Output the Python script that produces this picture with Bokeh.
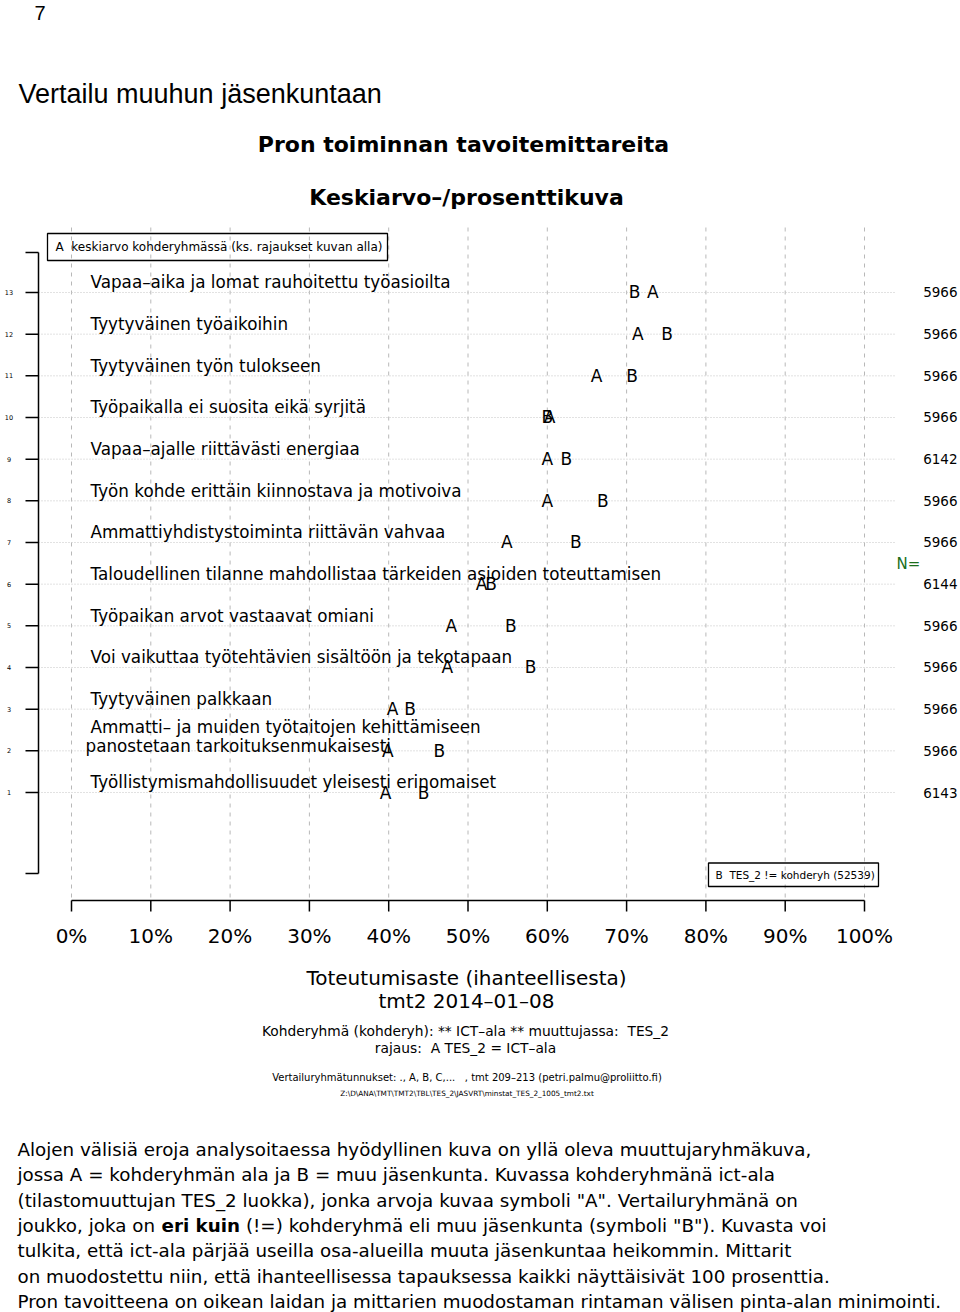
from bokeh.plotting import figure
from bokeh.models import Range1d
from bokeh.embed import file_html
from bokeh.resources import INLINE
from bokeh.core.properties import value

# ---------------- data ----------------
rows = [13, 12, 11, 10, 9, 8, 7, 6, 5, 4, 3, 2, 1]
labels = [
    "Vapaa–aika ja lomat rauhoitettu työasioilta",
    "Tyytyväinen työaikoihin",
    "Tyytyväinen työn tulokseen",
    "Työpaikalla ei suosita eikä syrjitä",
    "Vapaa–ajalle riittävästi energiaa",
    "Työn kohde erittäin kiinnostava ja motivoiva",
    "Ammattiyhdistystoiminta riittävän vahvaa",
    "Taloudellinen tilanne mahdollistaa tärkeiden asioiden toteuttamisen",
    "Työpaikan arvot vastaavat omiani",
    "Voi vaikuttaa työtehtävien sisältöön ja tekotapaan",
    "Tyytyväinen palkkaan",
    "Ammatti– ja muiden työtaitojen kehittämiseen\npanostetaan tarkoituksenmukaisesti",
    "Työllistymismahdollisuudet yleisesti erinomaiset",
]
a_vals = [73.3, 71.4, 66.2, 60.3, 60.0, 60.0, 54.9, 51.7, 47.9, 47.4, 40.5, 39.9, 39.6]
b_vals = [71.0, 75.1, 70.7, 60.0, 62.4, 67.0, 63.6, 52.9, 55.4, 57.9, 42.7, 46.4, 44.4]
n_vals = [5966, 5966, 5966, 5966, 6142, 5966, 5966, 6144, 5966, 5966, 5966, 5966, 6143]
pct_ticks = [0, 10, 20, 30, 40, 50, 60, 70, 80, 90, 100]
pct_labels = ["0%", "10%", "20%", "30%", "40%", "50%", "60%", "70%", "80%", "90%", "100%"]

legend_a = "A\u00a0\u00a0keskiarvo kohderyhmässä (ks. rajaukset kuvan alla)"
legend_b = "B\u00a0\u00a0TES_2 != kohderyh (52539)"
page_no = "7"
heading = "Vertailu muuhun jäsenkuntaan"
title1 = "Pron toiminnan tavoitemittareita"
title2 = "Keskiarvo–/prosenttikuva"
xlab1 = "Toteutumisaste (ihanteellisesta)"
xlab2 = "tmt2 2014–01–08"
sub1 = "Kohderyhmä (kohderyh): ** ICT–ala ** muuttujassa:\u00a0\u00a0TES_2"
sub2 = "rajaus:\u00a0\u00a0A TES_2 = ICT–ala"
sub3 = "Vertailuryhmätunnukset: ., A, B, C,...\u00a0\u00a0\u00a0, tmt 209–213 (petri.palmu@proliitto.fi)"
sub4 = "Z:\\D\\ANA\\TMT\\TMT2\\TBL\\TES_2\\JASVRT\\minstat_TES_2_1005_tmt2.txt"
para = [
    "Alojen välisiä eroja analysoitaessa hyödyllinen kuva on yllä oleva muuttujaryhmäkuva,",
    "jossa A = kohderyhmän ala ja B = muu jäsenkunta. Kuvassa kohderyhmänä ict-ala",
    "(tilastomuuttujan TES_2 luokka), jonka arvoja kuvaa symboli \"A\". Vertailuryhmänä on",
    ["joukko, joka on", "eri kuin", "\u00a0(!=) kohderyhmä eli muu jäsenkunta (symboli \"B\"). Kuvasta voi"],
    "tulkita, että ict-ala pärjää useilla osa-alueilla muuta jäsenkuntaa heikommin. Mittarit",
    "on muodostettu niin, että ihanteellisessa tapauksessa kaikki näyttäisivät 100 prosenttia.",
    "Pron tavoitteena on oikean laidan ja mittarien muodostaman rintaman välisen pinta-alan minimointi.",
]

# ---------------- layout helpers (page px -> data) ----------------
X0, XS = 71.0, 7.93          # page x of 0 %, px per %
Y1, YS = 792.0, 41.667       # page y of row 1, px per row


def X(px):
    return (px - X0) / XS


def Y(py):
    return 1 + (Y1 - py) / YS


W, H = 960, 1312
p = figure(width=W, height=H, x_range=Range1d(X(0), X(W)),
           y_range=Range1d(Y(H), Y(0)), output_backend="svg",
           toolbar_location=None, x_axis_type=None, y_axis_type=None,
           min_border=0)
p.outline_line_color = None
p.background_fill_color = "white"
p.border_fill_color = "white"

DV = "DejaVu Sans"
LS = "Liberation Sans"


def txt(px, py, s, size, align="left", bold=False, font=DV, color="black"):
    p.text(x=[X(px)], y=[Y(py)], text=[s], text_font=value(font),
           text_font_size=f"{size}px", text_align=align, text_baseline="middle",
           text_color=color, text_font_style="bold" if bold else "normal")


# ---------------- grid ----------------
p.segment(x0=pct_ticks, x1=pct_ticks, y0=[Y(897)] * len(pct_ticks),
          y1=[Y(226)] * len(pct_ticks), line_color="#b8b8b8", line_width=1,
          line_dash="4 5")
p.segment(x0=[X(38)] * len(rows), x1=[X(895)] * len(rows), y0=rows, y1=rows,
          line_color="#c4c4c4", line_width=1, line_dash="1 2")

# ---------------- left axis ----------------
p.segment(x0=[X(38)], x1=[X(38)], y0=[Y(873)], y1=[Y(252)], line_color="black", line_width=1.5)
ends = rows + [Y(252), Y(873)]
p.segment(x0=[X(25)] * len(ends), x1=[X(38)] * len(ends), y0=ends, y1=ends,
          line_color="black", line_width=1.5)
p.text(x=[X(8.5)] * len(rows), y=rows, text=[str(r) for r in rows],
       text_font=value(DV), text_font_size="6.5px", text_align="center",
       text_baseline="middle", text_color="black")

# ---------------- bottom axis ----------------
p.segment(x0=[0], x1=[100], y0=[Y(900)], y1=[Y(900)], line_color="black", line_width=1.5)
p.segment(x0=pct_ticks, x1=pct_ticks, y0=[Y(900)] * len(pct_ticks),
          y1=[Y(911)] * len(pct_ticks), line_color="black", line_width=1.5)
p.text(x=pct_ticks, y=[Y(935)] * len(pct_ticks), text=pct_labels,
       text_font=value(DV), text_font_size="20px", text_align="center",
       text_baseline="middle", text_color="black")

# ---------------- row labels ----------------
lx, ly, lt = [], [], []
for r, lab in zip(rows, labels):
    parts = lab.split("\n")
    if len(parts) == 1:
        lx.append(X(90)); ly.append(r + 0.247); lt.append(parts[0])
    else:
        lx.append(X(90)); ly.append(r + 0.583); lt.append(parts[0])
        lx.append(X(85)); ly.append(r + 0.12); lt.append(parts[1])
p.text(x=lx, y=ly, text=lt, text_font=value(DV), text_font_size="16.8px",
       text_align="left", text_baseline="middle", text_color="black")

# ---------------- A / B markers ----------------
p.text(x=a_vals, y=rows, text=["A"] * len(rows), text_font=value(DV),
       text_font_size="17px", text_align="center", text_baseline="middle",
       text_color="black")
p.text(x=b_vals, y=rows, text=["B"] * len(rows), text_font=value(DV),
       text_font_size="17px", text_align="center", text_baseline="middle",
       text_color="black")

# ---------------- N column ----------------
p.text(x=[X(957)] * len(rows), y=rows, text=[str(n) for n in n_vals],
       text_font=value(DV), text_font_size="13.5px", text_align="right",
       text_baseline="middle", text_color="black")
txt(896, 563, "N=", 15, color="#1b6e1b")

# ---------------- legends ----------------
p.quad(left=[X(47)], right=[X(387)], top=[Y(233)], bottom=[Y(260)],
       fill_alpha=0, line_color="black", line_width=1.3)
txt(55, 246.5, legend_a, 12)
p.quad(left=[X(708)], right=[X(878)], top=[Y(862.5)], bottom=[Y(886)],
       fill_alpha=0, line_color="black", line_width=1.3)
txt(715, 874.5, legend_b, 10.5)

# ---------------- titles ----------------
txt(34, 12, page_no, 20, font=LS)
txt(18, 93, heading, 27, font=LS)
txt(463, 144, title1, 22, align="center", bold=True)
txt(466, 197, title2, 22, align="center", bold=True)

# ---------------- bottom texts ----------------
txt(466, 977, xlab1, 20, align="center")
txt(466, 1000, xlab2, 20, align="center")
txt(465, 1030, sub1, 13.8, align="center")
txt(465, 1047, sub2, 13.8, align="center")
txt(466.5, 1077, sub3, 10, align="center")
txt(466.5, 1093, sub4, 7.3, align="center")

# ---------------- paragraph ----------------
PS = 18.3
for i, line in enumerate(para):
    yy = 1149 + 25.3 * i
    if isinstance(line, list):
        txt(17, yy, line[0], PS)
        txt(161, yy, line[1], PS, bold=True)
        txt(239.6, yy, line[2], PS)
    else:
        txt(17, yy, line, PS)

html = file_html(p, INLINE, "Vertailu muuhun jäsenkuntaan")
with open("out.html", "w", encoding="utf-8") as f:
    f.write(html)
